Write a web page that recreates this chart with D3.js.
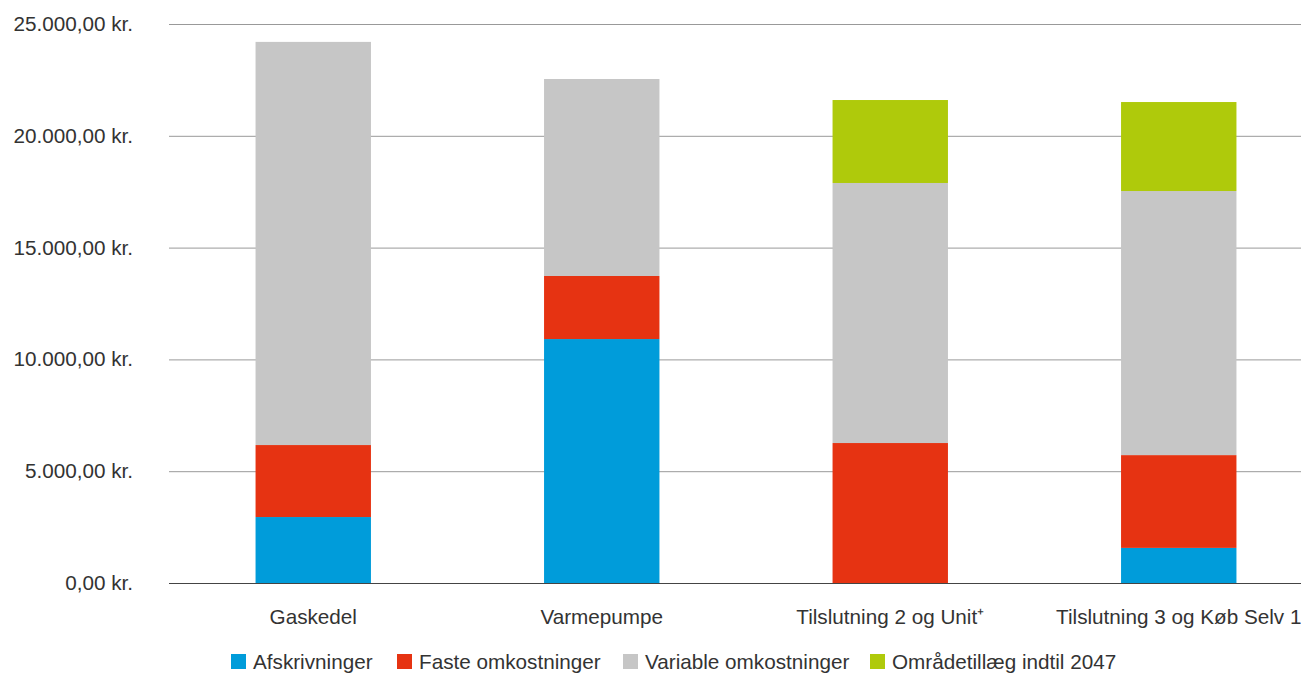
<!DOCTYPE html>
<html>
<head>
<meta charset="utf-8">
<script src="https://cdn.jsdelivr.net/npm/d3@7"></script>
<style>
  body { margin: 0; background: #fff; }
  svg text { font-family: "Liberation Sans", Arial, sans-serif; fill: #333; }
</style>
</head>
<body>
<svg id="chart" width="1301" height="674"></svg>
<script>
const categories = ["Gaskedel", "Varmepumpe", "Tilslutning 2 og Unit⁺", "Tilslutning 3 og Køb Selv 1"];
const seriesNames = ["Afskrivninger", "Faste omkostninger", "Variable omkostninger", "Områdetillæg indtil 2047"];
const seriesColors = ["#009cda", "#e63312", "#c6c6c6", "#afca0b"];

// values per series, in the order of categories
const afskrivninger = [2950, 10910, 0, 1570];
const fasteOmkostninger = [3220, 2820, 6260, 4150];
const variableOmkostninger = [18030, 8810, 11630, 11810];
const omraadetillaeg = [0, 0, 3710, 3980];

const yTicks = [0, 5000, 10000, 15000, 20000, 25000];

const seriesValues = [afskrivninger, fasteOmkostninger, variableOmkostninger, omraadetillaeg];

const rows = categories.map(function (c, i) {
    const row = { category: c };
    seriesNames.forEach(function (s, j) {
        row[s] = seriesValues[j][i];
    });
    return row;
});

const svg = d3.select("#chart");
const plotLeft = 169, plotRight = 1323, plotTop = 24, plotBottom = 583;
const fontSize = "20.7px";

const x = d3.scaleBand()
    .domain(categories)
    .range([plotLeft, plotRight])
    .paddingInner(0.6)
    .paddingOuter(0.3);

const y = d3.scaleLinear()
    .domain([0, 25000])
    .range([plotBottom, plotTop]);

const fmt = function (v) {
    const s = d3.format(",.2f")(v);
    return s.replace(/,/g, "#").replace(".", ",").replace(/#/g, ".") + " kr.";
};

// gridlines
svg.append("g")
    .selectAll("line")
    .data(yTicks)
    .enter()
    .append("line")
    .attr("x1", plotLeft)
    .attr("x2", 1301)
    .attr("y1", (d) => y(d) + 0.5)
    .attr("y2", (d) => y(d) + 0.5)
    .style("stroke", (d) => d === 0 ? "#444" : "#999")
    .style("stroke-width", 1);

// y labels
svg.append("g")
    .selectAll("text")
    .data(yTicks)
    .enter()
    .append("text")
    .attr("x", 133)
    .attr("y", (d) => y(d) + 7)
    .attr("text-anchor", "end")
    .style("font-size", fontSize)
    .text((d) => fmt(d));

// stacked bars
const stacked = d3.stack().keys(seriesNames)(rows);

svg.append("g")
    .selectAll("g")
    .data(stacked)
    .enter()
    .append("g")
    .style("fill", (d, i) => seriesColors[i])
    .selectAll("rect")
    .data((d) => d)
    .enter()
    .filter((d) => d[1] - d[0] > 0)
    .append("rect")
    .attr("x", (d) => x(d.data.category))
    .attr("width", x.bandwidth())
    .attr("y", (d) => y(d[1]))
    .attr("height", (d) => y(d[0]) - y(d[1]));

// category labels
svg.append("g")
    .selectAll("text")
    .data(categories)
    .enter()
    .append("text")
    .attr("x", (d) => x(d) + x.bandwidth() / 2)
    .attr("y", 624)
    .attr("text-anchor", "middle")
    .style("font-size", fontSize)
    .text((d) => d);

// legend
const legendX = [231, 397, 623, 870];
const legend = svg.append("g")
    .selectAll("g")
    .data(seriesNames)
    .enter()
    .append("g")
    .attr("transform", (d, i) => `translate(${legendX[i]},654)`);

legend.append("rect")
    .attr("width", 15)
    .attr("height", 15)
    .style("fill", (d, i) => seriesColors[i]);

legend.append("text")
    .attr("x", 22)
    .attr("y", 15)
    .style("font-size", fontSize)
    .text((d) => d);
</script>
</body>
</html>
